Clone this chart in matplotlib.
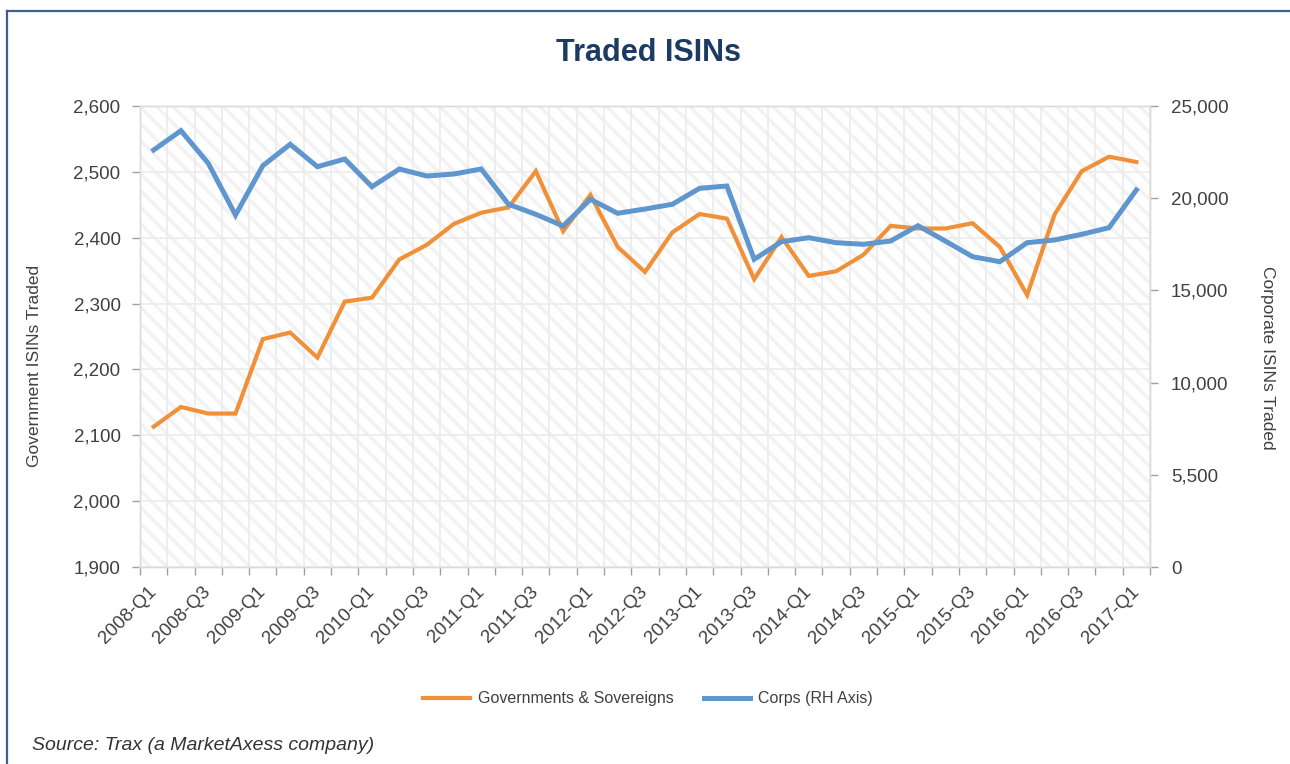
import matplotlib
matplotlib.use("Agg")
import matplotlib.pyplot as plt
from matplotlib.patches import Rectangle
from matplotlib.lines import Line2D
from matplotlib.ticker import FixedLocator

quarters = ["2008-Q1", "2008-Q2", "2008-Q3", "2008-Q4",
            "2009-Q1", "2009-Q2", "2009-Q3", "2009-Q4",
            "2010-Q1", "2010-Q2", "2010-Q3", "2010-Q4",
            "2011-Q1", "2011-Q2", "2011-Q3", "2011-Q4",
            "2012-Q1", "2012-Q2", "2012-Q3", "2012-Q4",
            "2013-Q1", "2013-Q2", "2013-Q3", "2013-Q4",
            "2014-Q1", "2014-Q2", "2014-Q3", "2014-Q4",
            "2015-Q1", "2015-Q2", "2015-Q3", "2015-Q4",
            "2016-Q1", "2016-Q2", "2016-Q3", "2016-Q4",
            "2017-Q1"]

gov = [2113, 2143, 2133, 2133, 2246, 2256, 2218, 2303, 2309, 2367,
       2389, 2421, 2438, 2446, 2501, 2410, 2465, 2386, 2348, 2408,
       2436, 2429, 2337, 2401, 2342, 2349, 2374, 2418, 2414, 2414,
       2422, 2386, 2313, 2435, 2501, 2523, 2515]

corps = [22614, 23661, 21892, 19089, 21763, 22923, 21709, 22126, 20624, 21584,
         21204, 21312, 21584, 19669, 19127, 18492, 19940, 19181, 19414, 19669,
         20537, 20662, 16686, 17641, 17858, 17587, 17500, 17679, 18509, 17679,
         16828, 16557, 17587, 17733, 18042, 18400, 20445]

left_ticks = [1900, 2000, 2100, 2200, 2300, 2400, 2500, 2600]
left_labels = ["1,900", "2,000", "2,100", "2,200", "2,300", "2,400", "2,500", "2,600"]
right_ticks = [0, 5000, 10000, 15000, 20000, 25000]
right_labels = ["0", "5,500", "10,000", "15,000", "20,000", "25,000"]

ORANGE = "#F0913A"
BLUE = "#5F96CE"
TXT = "#404040"
GRID = "#ebebeb"

plt.rcParams["font.family"] = ["Liberation Sans", "DejaVu Sans"]
plt.rcParams["hatch.linewidth"] = 2.4

W, H = 1290, 764
fig = plt.figure(figsize=(W / 100, H / 100), dpi=100)
fig.patch.set_facecolor("white")

L, R, T, B = 140, 1150, 106, 567
ax = fig.add_axes([L / W, 1 - B / H, (R - L) / W, (B - T) / H])
ax2 = ax.twinx()

x = list(range(len(quarters)))

# hatched background
ax.set_facecolor("white")
bg = Rectangle((0, 0), 1, 1, transform=ax.transAxes, facecolor="white",
               edgecolor="#f2f2f2", hatch="\\\\", linewidth=0, zorder=0)
ax.add_patch(bg)

ax.set_xlim(-0.5, len(quarters) - 0.5)
ax.set_ylim(1900, 2600)
ax2.set_ylim(0, 25000)

ax.plot(x, gov, color=ORANGE, lw=3.0, solid_joinstyle="miter", zorder=3,
        label="Governments & Sovereigns")
ax2.plot(x, corps, color=BLUE, lw=3.6, solid_joinstyle="miter", zorder=3,
         label="Corps (RH Axis)")

# ticks
ax.set_yticks(left_ticks)
ax.set_yticklabels(left_labels)
ax2.set_yticks(right_ticks)
ax2.set_yticklabels(right_labels)

major = list(range(0, len(quarters), 2))
ax.set_xticks(major)
ax.set_xticklabels([quarters[i] for i in major], rotation=45, ha="right",
                   va="center", rotation_mode="anchor")
ax.xaxis.set_minor_locator(FixedLocator([i + 0.5 for i in range(-1, len(quarters))]))
ax.tick_params(axis="x", which="major", length=0, pad=16, labelsize=13.5, labelcolor=TXT)
ax.tick_params(axis="x", which="minor", length=6, width=1, color="#a0a0a0", direction="out")
ax.tick_params(axis="y", length=6, width=1, color="#a0a0a0", pad=8, labelsize=13.5, labelcolor=TXT)
ax2.tick_params(axis="y", length=6, width=1, color="#a0a0a0", pad=9, labelsize=13.5, labelcolor=TXT)

# grid
ax.grid(axis="y", which="major", color=GRID, lw=1.2, zorder=1)
ax.grid(axis="x", which="minor", color=GRID, lw=1.2, zorder=1)
ax.set_axisbelow(True)

for a in (ax, ax2):
    for s in a.spines.values():
        s.set_color("#dcdcdc")
        s.set_linewidth(1)

# axis labels
fig.text(35 / W, 1 - 366 / H, "Government ISINs Traded", rotation=90,
         ha="center", va="center", fontsize=12.5, color=TXT)
fig.text(1268 / W, 1 - 358 / H, "Corporate ISINs Traded", rotation=270,
         ha="center", va="center", fontsize=12.5, color=TXT)

# title
fig.text(649 / W, 1 - 53 / H, "Traded ISINs", ha="center", va="center",
         fontsize=22, fontweight="bold", color="#1B3B63")

# legend
h1, l1 = ax.get_legend_handles_labels()
h2, l2 = ax2.get_legend_handles_labels()
leg = fig.legend(h1 + h2, l1 + l2, loc="center", bbox_to_anchor=(648 / W, 1 - 699 / H),
                 ncol=2, frameon=False, fontsize=11.5, handlelength=2.9,
                 handletextpad=0.5, columnspacing=1.9)
for t in leg.get_texts():
    t.set_color(TXT)

# source
fig.text(32 / W, 1 - 745 / H, "Source: Trax (a MarketAxess company)", ha="left",
         va="center", fontsize=14, style="italic", color="#333333")

# frame
fig.add_artist(Line2D([7 / W, 1.0], [1 - 11 / H, 1 - 11 / H], transform=fig.transFigure,
                      color="#3E5F8A", lw=1.6))
fig.add_artist(Line2D([7 / W, 7 / W], [1 - 11 / H, 0.0], transform=fig.transFigure,
                      color="#3E5F8A", lw=1.6))

fig.savefig("out.png", dpi=100, facecolor="white")
